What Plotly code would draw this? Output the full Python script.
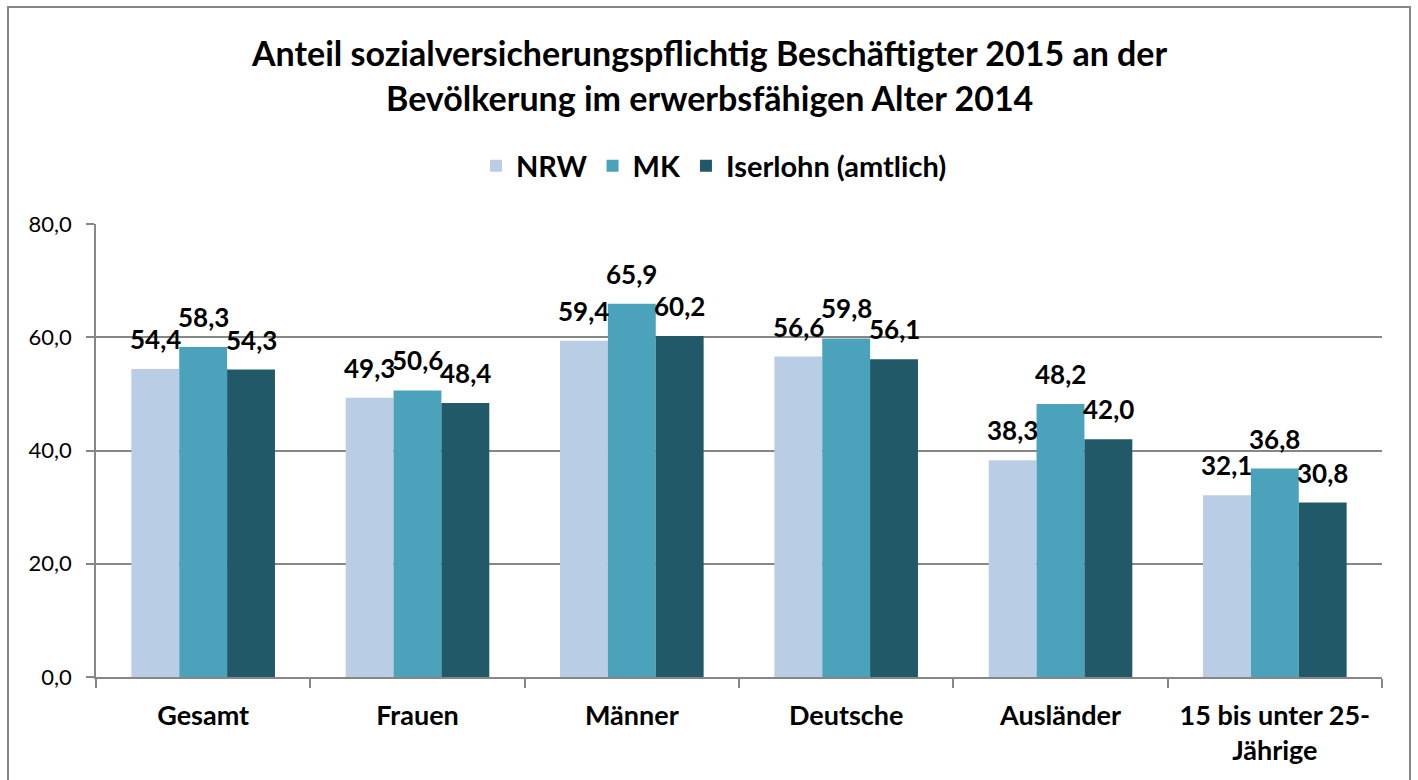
import plotly.graph_objects as go

categories = ["Gesamt", "Frauen", "Männer", "Deutsche", "Ausländer", "15 bis unter 25-<br>Jährige"]
series_names = ["NRW", "MK", "Iserlohn (amtlich)"]
nrw = [54.4, 49.3, 59.4, 56.6, 38.3, 32.1]
mk = [58.3, 50.6, 65.9, 59.8, 48.2, 36.8]
iserlohn = [54.3, 48.4, 60.2, 56.1, 42.0, 30.8]
colors = ["#B9CDE5", "#4BA3BB", "#215968"]
y_ticks = [0, 20, 40, 60, 80]
title_lines = ["Anteil sozialversicherungspflichtig Beschäftigter 2015 an der",
               "Bevölkerung im erwerbsfähigen Alter 2014"]

FONT = "Lato"
W, H = 1418, 780
L, R, T, B = 96, 36, 224, 103
pw, ph = W - L - R, H - T - B
BARGAP = 0.33
bar_px = pw / len(categories) * (1 - BARGAP) / 3

def px(x):
    return (x - L) / pw

def py(y):
    return (H - B - y) / ph

fig = go.Figure()
all_series = [nrw, mk, iserlohn]
for name, vals, c in zip(series_names, all_series, colors):
    fig.add_trace(go.Bar(
        x=categories, y=vals, name=name, marker=dict(color=c, line=dict(width=0)),
    ))

annotations = []
for i, vals in enumerate(all_series):
    for cat, v in zip(categories, vals):
        annotations.append(dict(
            x=cat, y=v, xref="x", yref="y", text=f"{v:.1f}".replace(".", ","),
            showarrow=False, xanchor="center", yanchor="bottom",
            xshift=(i - 1) * bar_px, yshift=12,
            font=dict(family=FONT, size=26, color="#000000", weight="bold"),
        ))

for t, yy in zip(title_lines, [52, 98]):
    annotations.append(dict(text=t, xref="paper", yref="paper", x=px(709), y=py(yy),
                            xanchor="center", yanchor="middle", showarrow=False,
                            font=dict(family=FONT, size=34, weight="bold", color="#000000")))

fig.update_layout(
    width=W, height=H,
    margin=dict(l=L, r=R, t=T, b=B),
    barmode="group", bargap=BARGAP, bargroupgap=0,
    separators=",.",
    paper_bgcolor="white", plot_bgcolor="white",
    font=dict(family=FONT, color="#000000"),
    showlegend=True,
    legend=dict(orientation="h", x=px(714), xanchor="center", y=py(166), yanchor="middle",
                font=dict(family=FONT, size=29, weight="bold", color="#000000"),
                itemwidth=30, traceorder="normal", bgcolor="rgba(0,0,0,0)"),
    xaxis=dict(showline=True, linecolor="#868686", linewidth=1.5, ticks="outside",
               tickson="boundaries", ticklen=9, tickcolor="#868686", tickwidth=1.5,
               ticklabelstandoff=14,
               tickfont=dict(family=FONT, size=27, weight="bold", color="#000000"),
               showgrid=False),
    yaxis=dict(range=[0, 80], tickvals=y_ticks, tickformat=".1f",
               showline=True, linecolor="#868686", linewidth=1.5,
               ticks="outside", ticklen=8, tickcolor="#868686", tickwidth=1.5,
               ticklabelstandoff=10,
               showgrid=True, gridcolor="#868686", gridwidth=1.5,
               tickfont=dict(family=FONT, size=22, color="#000000"),
               zeroline=False),
    shapes=[dict(type="rect", xref="paper", yref="paper",
                 x0=px(8), x1=px(1410), y0=py(800), y1=py(7),
                 line=dict(color="#868686", width=2), fillcolor="rgba(0,0,0,0)", layer="below")],
    annotations=annotations,
)

fig.write_html("out.html", config={"displayModeBar": False},
               post_script="document.body.style.margin='0';document.body.style.overflow='hidden';")
